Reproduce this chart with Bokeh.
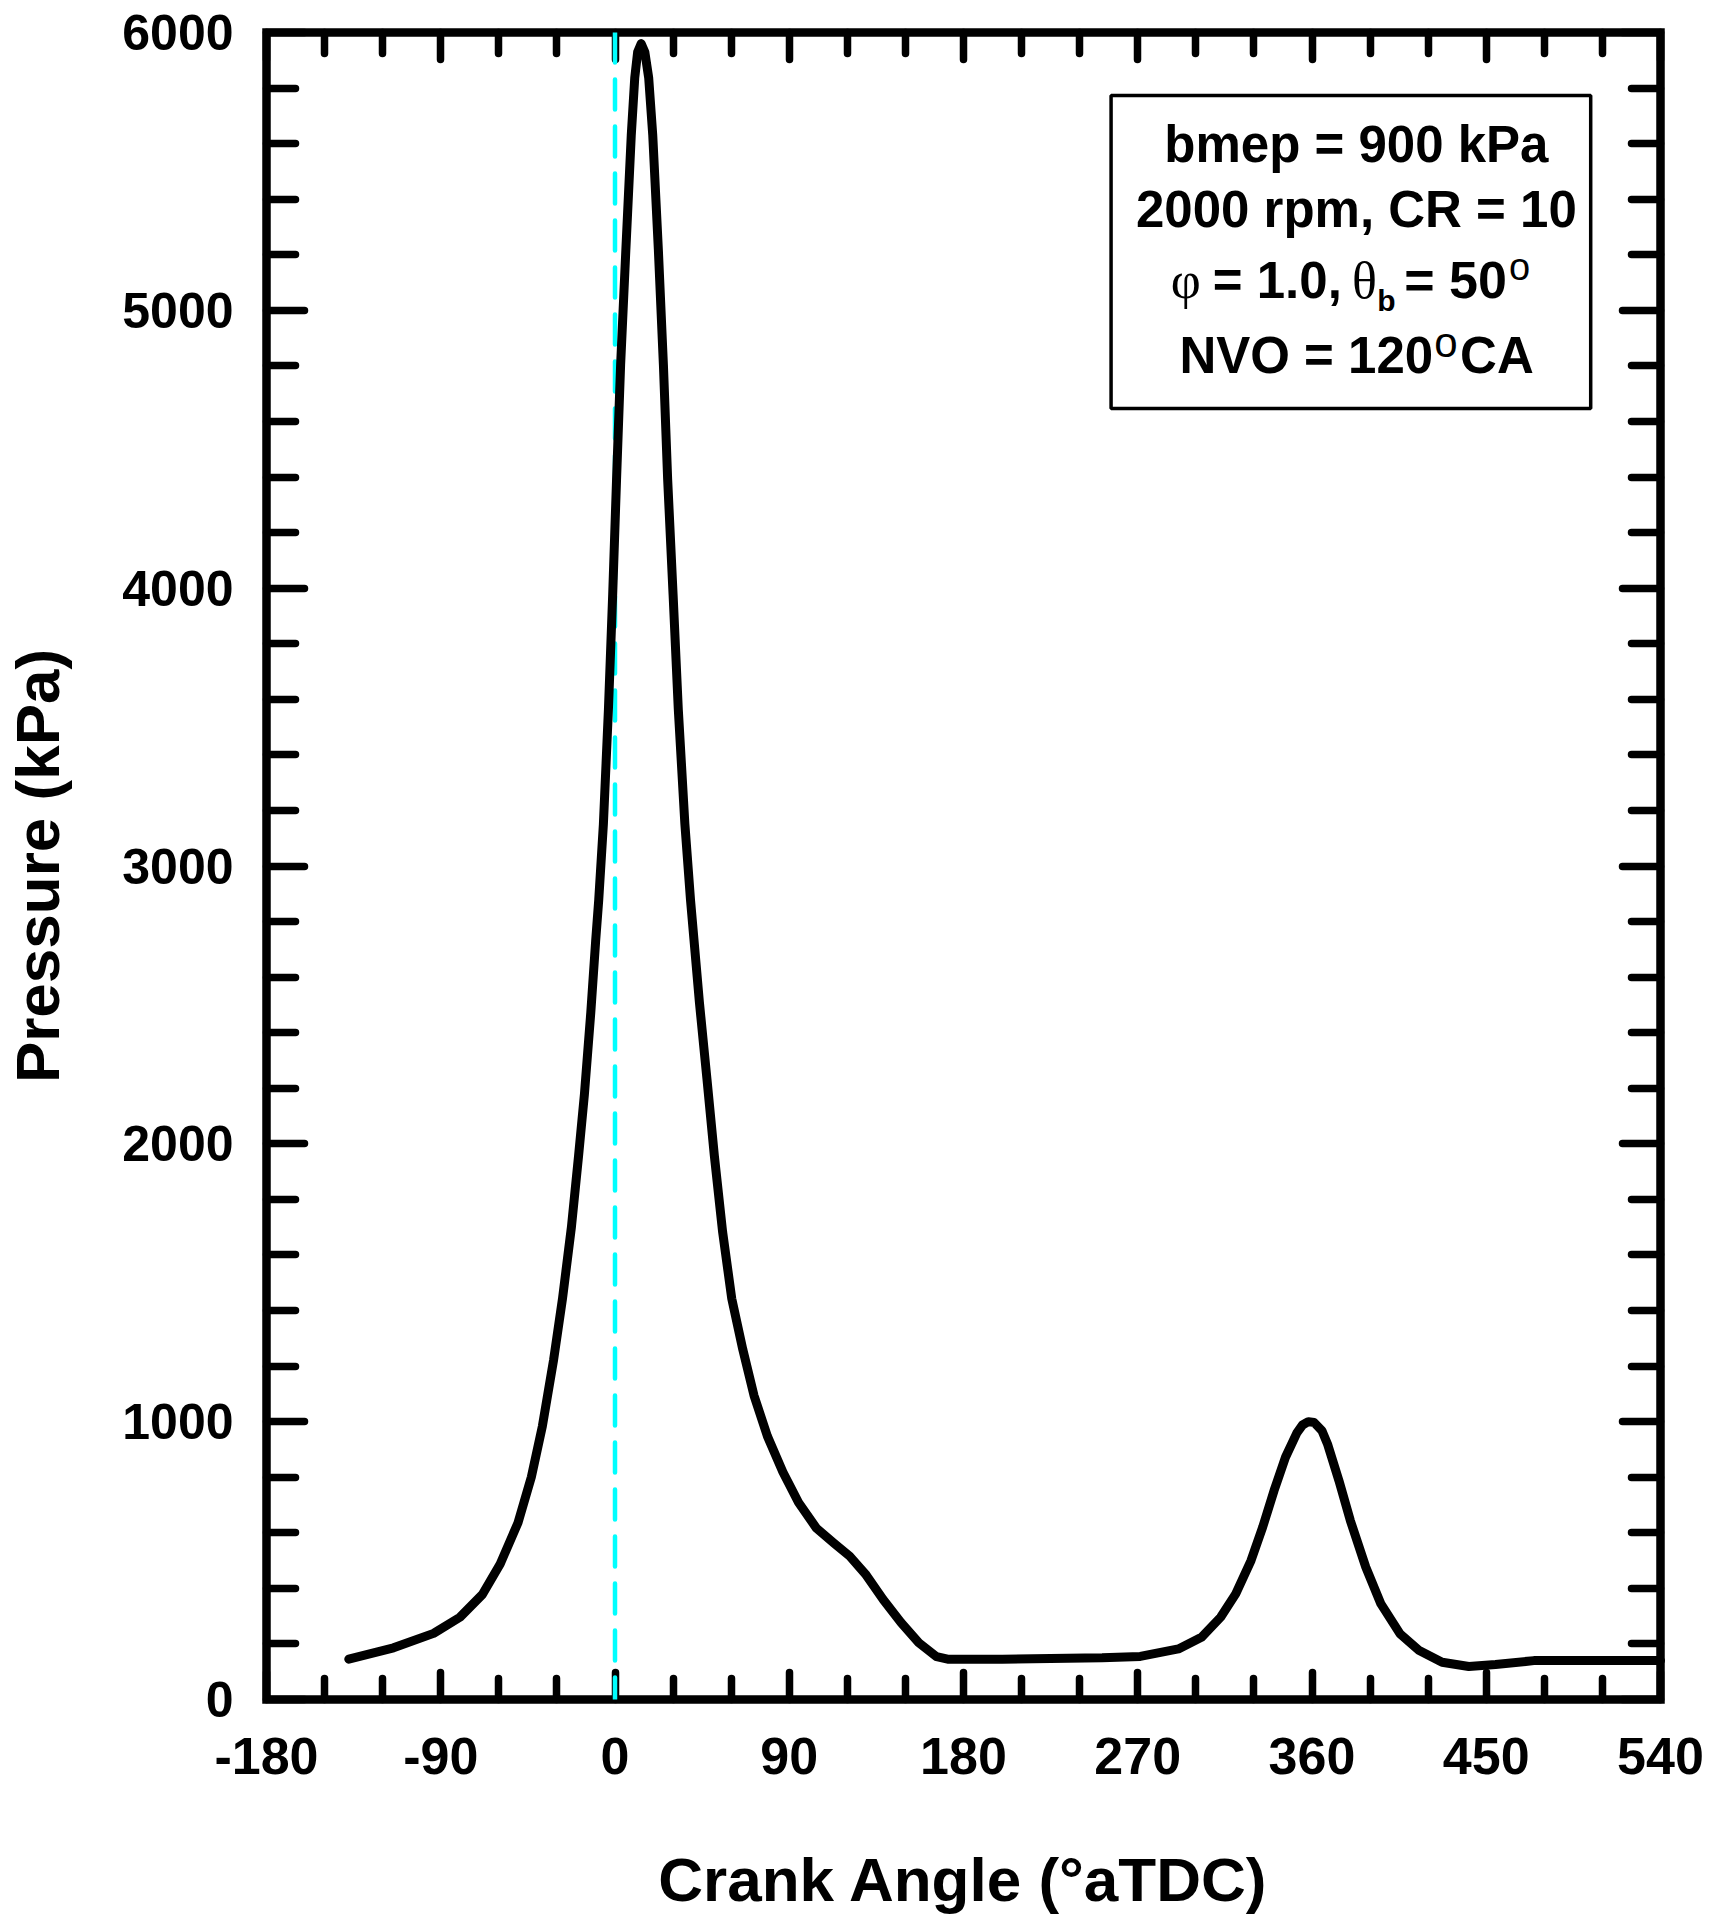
from bokeh.plotting import figure
from bokeh.models import (Range1d, FixedTicker, LinearAxis, Label, BoxAnnotation,
                          Span, CustomJSTickFormatter)
from bokeh.embed import file_html
from bokeh.resources import INLINE

# ---------------- data ----------------
crank_angle = [-137.5, -114.4, -93.7, -80.1, -68.5, -59.3, -50.1, -43.2, -37.5, -31.7,
               -27.1, -22.5, -18.8, -15.8, -12.5, -10.0, -8.4, -6.0, -3.4, -1.2,
               0.8, 2.9, 5.6, 8.4, 10.2, 11.7, 13.5, 15.4, 17.4, 19.5,
               22.4, 25.0, 27.2, 30.0, 32.7, 36.1, 39.0, 43.6, 47.5, 51.3,
               55.6, 60.3, 66.0, 71.8, 78.7, 86.7, 94.8, 104.0, 113.2, 121.2,
               129.3, 138.5, 147.7, 156.9, 166.1, 171.8, 200.0, 251.6, 271.3, 291.0,
               302.9, 312.8, 320.6, 328.5, 334.5, 340.4, 346.3, 352.2, 355.1, 358.1,
               361.1, 365.1, 368.0, 373.9, 379.8, 387.8, 395.6, 405.5, 415.4, 427.2,
               441.0, 454.8, 474.6, 498.3, 540.0]
pressure = [145, 186, 238, 296, 378, 488, 636, 801, 984, 1223,
            1444, 1701, 1958, 2178, 2473, 2729, 2878, 3150, 3563, 3977,
            4391, 4804, 5217, 5630, 5837, 5930, 5960, 5930, 5837, 5630,
            5217, 4804, 4391, 3977, 3563, 3150, 2878, 2509, 2233, 1958,
            1682, 1443, 1260, 1094, 948, 819, 709, 617, 562, 516,
            452, 360, 277, 204, 154, 145, 145, 150, 155, 182,
            224, 296, 380, 500, 620, 752, 872, 960, 988, 1000,
            997, 968, 920, 788, 644, 476, 344, 236, 176, 134,
            119, 126, 140, 140, 140]

x_major_ticks = [-180, -90, 0, 90, 180, 270, 360, 450, 540]
x_tick_labels = ["-180", "-90", "0", "90", "180", "270", "360", "450", "540"]
x_minor_ticks = [-150, -120, -60, -30, 30, 60, 120, 150, 210, 240, 300, 330,
                 390, 420, 480, 510]
y_major_ticks = [0, 1000, 2000, 3000, 4000, 5000, 6000]
y_tick_labels = ["0", "1000", "2000", "3000", "4000", "5000", "6000"]
y_minor_ticks = [200, 400, 600, 800, 1200, 1400, 1600, 1800, 2200, 2400, 2600, 2800,
                 3200, 3400, 3600, 3800, 4200, 4400, 4600, 4800, 5200, 5400, 5600, 5800]
tdc_angle = 0

legend_lines = ["bmep = 900 kPa", "2000 rpm, CR = 10"]
x_title = "Crank Angle (°aTDC)"
y_title = "Pressure (kPa)"

# ---------------- layout ----------------
W, H = 1704, 1921
X0, X1, Y0, Y1 = -180, 540, 0, 6000
FL, FR, FT, FB = 262, 1660, 32, 1699   # frame edges in canvas pixels


def px2x(px):
    return X0 + (px - FL) * (X1 - X0) / (FR - FL)


def py2y(py):
    return Y0 + (FB - py) * (Y1 - Y0) / (FB - FT)


FONT = "Liberation Sans"

p = figure(width=W, height=H, x_range=Range1d(X0, X1), y_range=Range1d(Y0, Y1),
           output_backend="svg", toolbar_location=None,
           min_border_left=FL, min_border_right=W - FR, min_border_top=FT,
           min_border_bottom=H - FB)
p.grid.visible = False
p.background_fill_color = "white"
p.border_fill_color = "white"
p.outline_line_color = "black"
p.outline_line_width = 8.5
p.outline_line_join = "miter"

xt = FixedTicker(ticks=x_major_ticks, minor_ticks=x_minor_ticks)
yt = FixedTicker(ticks=y_major_ticks, minor_ticks=y_minor_ticks)


def style_axis(ax, tin, tmin):
    ax.axis_line_color = None
    ax.major_tick_in = tin
    ax.major_tick_out = 0
    ax.minor_tick_in = tmin
    ax.minor_tick_out = 0
    ax.major_tick_line_width = 7.5
    ax.minor_tick_line_width = 7.5
    ax.major_tick_line_cap = "round"
    ax.minor_tick_line_cap = "round"
    ax.major_tick_line_color = "black"
    ax.minor_tick_line_color = "black"
    ax.major_label_text_font = FONT
    ax.major_label_text_font_style = "bold"
    ax.major_label_text_font_size = "50px"
    ax.major_label_text_color = "black"
    ax.axis_label_text_font = FONT
    ax.axis_label_text_font_style = "bold"
    ax.axis_label_text_font_size = "62px"
    ax.axis_label_text_color = "black"


xa = p.xaxis[0]
xa.ticker = xt
style_axis(xa, 27, 21)
xa.major_label_overrides = dict(zip(x_major_ticks, x_tick_labels))
xa.major_label_text_font_size = "52px"
xa.major_label_standoff = 38
xa.axis_label = x_title
xa.axis_label_standoff = 68

ya = p.yaxis[0]
ya.ticker = yt
style_axis(ya, 38, 29)
ya.major_label_overrides = dict(zip(y_major_ticks, y_tick_labels))
ya.major_label_standoff = 33
ya.axis_label = y_title
ya.axis_label_standoff = 47

blank = CustomJSTickFormatter(code="return '';")
top = LinearAxis(ticker=xt, formatter=blank)
style_axis(top, 27, 21)
top.major_label_text_font_size = "0px"
top.major_label_standoff = 0
p.add_layout(top, "above")

right = LinearAxis(ticker=yt, formatter=blank)
style_axis(right, 38, 29)
right.major_label_text_font_size = "0px"
right.major_label_standoff = 0
p.add_layout(right, "right")

# TDC reference line
p.add_layout(Span(location=tdc_angle, dimension="height", line_color="#00FFFF",
                  line_width=4.5, line_dash="30 17", line_cap="round"))

# pressure trace
curve = p.line(crank_angle, pressure, line_color="black", line_width=9,
               line_join="round", line_cap="round")
curve.level = "overlay"

# annotation box
p.add_layout(BoxAnnotation(left=px2x(1109), right=px2x(1590), top=py2y(95), bottom=py2y(408),
                           fill_color="white", fill_alpha=1.0, line_color="black",
                           line_alpha=1.0, line_width=3.5))

MID = 0.3465  # (ascent - descent) / 2 for Liberation fonts


def lab(text, ix, base, size, align="left", font=FONT, style="bold"):
    p.add_layout(Label(x=px2x(ix), y=py2y(base - MID * size), text=text, text_font=font,
                       text_font_style=style, text_font_size=f"{size}px",
                       text_align=align, text_baseline="middle", text_color="black"))


lab(legend_lines[0], 1355, 162, 51, "center")
lab(legend_lines[1], 1355, 227, 51, "center")
# line 3: phi = 1.0, theta_b = 50 deg
lab("φ", 1184, 298, 52, "center", "Liberation Serif", "normal")
lab("= 1.0,", 1211, 298, 51)
lab("θ", 1363, 298, 52, "center", "Liberation Serif", "normal")
lab("b", 1376, 310, 30)
lab("= 50", 1403, 298, 52)
lab("o", 1508, 280, 38, "left", FONT, "normal")
# line 4: NVO = 120 deg CA
lab("NVO = 120", 1432, 373, 51, "right")
lab("o", 1433, 357, 42, "left", FONT, "normal")
lab("CA", 1459, 373, 51)

open("out.html", "w").write(file_html(p, INLINE))
